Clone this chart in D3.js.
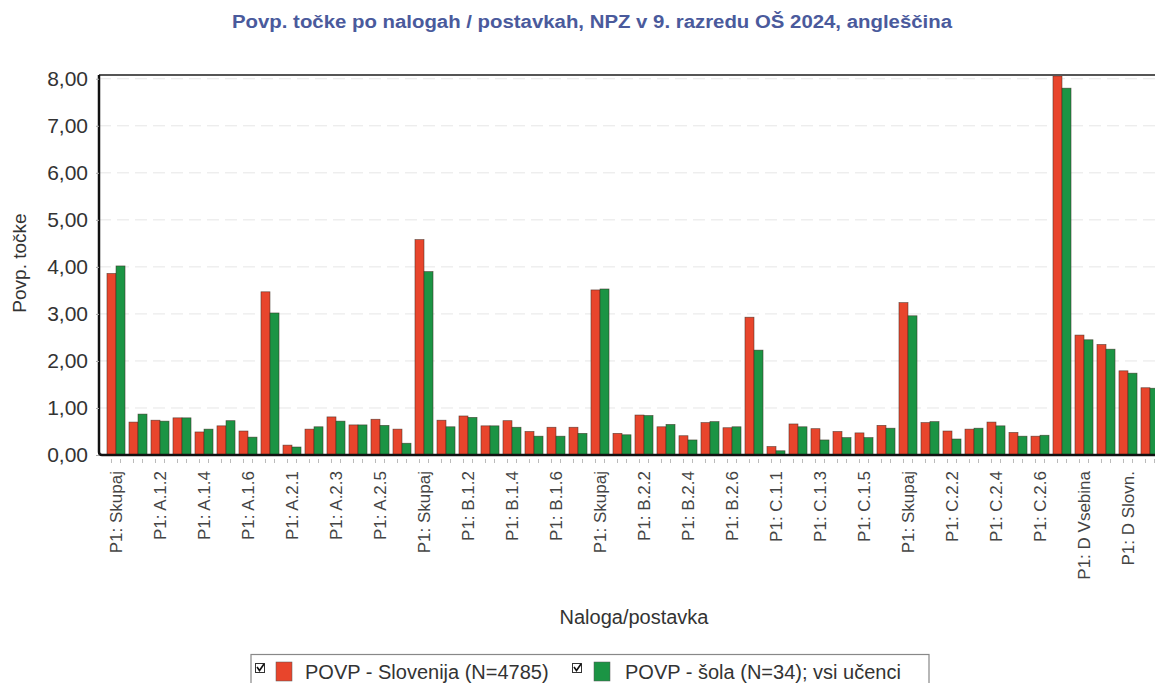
<!DOCTYPE html>
<html><head><meta charset="utf-8">
<script src="https://cdn.jsdelivr.net/npm/d3@7"></script>
<style>body{margin:0;background:#fff}svg{display:block;font-family:"Liberation Sans",Arial,sans-serif}</style>
</head><body>
<svg id="c" width="1155" height="683"></svg>
<script>
const categories = ["P1: Skupaj","P1: A.1.1","P1: A.1.2","P1: A.1.3","P1: A.1.4","P1: A.1.5","P1: A.1.6",
 "P1: Skupaj","P1: A.2.1","P1: A.2.2","P1: A.2.3","P1: A.2.4","P1: A.2.5","P1: A.2.6",
 "P1: Skupaj","P1: B.1.1","P1: B.1.2","P1: B.1.3","P1: B.1.4","P1: B.1.5","P1: B.1.6","P1: B.1.7",
 "P1: Skupaj","P1: B.2.1","P1: B.2.2","P1: B.2.3","P1: B.2.4","P1: B.2.5","P1: B.2.6",
 "P1: Skupaj","P1: C.1.1","P1: C.1.2","P1: C.1.3","P1: C.1.4","P1: C.1.5","P1: C.1.6",
 "P1: Skupaj","P1: C.2.1","P1: C.2.2","P1: C.2.3","P1: C.2.4","P1: C.2.5","P1: C.2.6",
 "P1: Skupaj","P1: D Vsebina","P1: D Zgradba","P1: D Slovn.","P1: D Prav."];
const slovenija = [3.86,0.70,0.74,0.79,0.49,0.62,0.51,
 3.47,0.21,0.55,0.81,0.64,0.76,0.55,
 4.58,0.74,0.83,0.62,0.73,0.50,0.59,0.59,
 3.51,0.46,0.85,0.60,0.41,0.69,0.58,
 2.93,0.18,0.66,0.56,0.50,0.47,0.63,
 3.24,0.69,0.51,0.55,0.70,0.48,0.40,
 8.06,2.55,2.35,1.79,1.43];
const sola = [4.02,0.87,0.72,0.79,0.55,0.73,0.38,
 3.02,0.17,0.60,0.72,0.64,0.63,0.25,
 3.90,0.60,0.80,0.62,0.59,0.40,0.40,0.46,
 3.53,0.43,0.84,0.65,0.32,0.71,0.60,
 2.23,0.09,0.60,0.32,0.37,0.37,0.57,
 2.96,0.71,0.34,0.57,0.62,0.40,0.42,
 7.80,2.45,2.25,1.74,1.42];
const seriesNames = ["POVP - Slovenija (N=4785)","POVP - šola (N=34); vsi učenci"];
const seriesColors = ["#e8452c","#1b9444"];
const yTicks = [0,1,2,3,4,5,6,7,8];
const chartTitle = "Povp. točke po nalogah / postavkah, NPZ v 9. razredu OŠ 2024, angleščina";
const yTitle = "Povp. točke";
const xTitle = "Naloga/postavka";

const svg = d3.select("#c");
const plotLeft = 99, plotBase = 455, plotTop = 75;
const idx = d3.range(categories.length);
const x = d3.scaleBand().domain(idx).range([105, 105 + categories.length*22]).paddingInner(0.18).paddingOuter(0.09);
const xs = d3.scaleBand().domain([0,1]).range([0, x.bandwidth()]);
const y = d3.scaleLinear().domain([0, 8.08]).range([plotBase, plotTop]);

// title
svg.append("text").attr("x", 592).attr("y", 28).attr("text-anchor","middle")
  .attr("font-size", 18).attr("font-weight","bold").attr("fill","#4a5a9c")
  .attr("textLength", 720).attr("lengthAdjust","spacingAndGlyphs").text(chartTitle);

// grid
svg.append("g").selectAll("line").data(yTicks.filter(d=>d>0)).join("line")
  .attr("x1", plotLeft).attr("x2", 1155).attr("y1", d=>y(d)).attr("y2", d=>y(d))
  .attr("stroke","#e6e6e6").attr("stroke-width",1).attr("stroke-dasharray","12,6");

// bars
const series = [slovenija, sola];
series.forEach((vals, s) => {
  svg.append("g").selectAll("rect").data(idx).join("rect")
    .attr("x", i => x(i) + xs(s)).attr("width", xs.bandwidth())
    .attr("y", i => y(vals[i])).attr("height", i => plotBase - y(vals[i]))
    .attr("fill", seriesColors[s]).attr("stroke","#3a2a20").attr("stroke-width",0.7).attr("stroke-opacity",0.7);
});

// frame
svg.append("line").attr("x1", plotLeft).attr("x2", 1155).attr("y1", plotTop).attr("y2", plotTop)
  .attr("stroke","#555").attr("stroke-width",2);
svg.append("path").attr("d", `M${plotLeft},${plotTop} L${plotLeft},${plotBase-3} Q${plotLeft},${plotBase} ${plotLeft+3},${plotBase} L1155,${plotBase}`)
  .attr("fill","none").attr("stroke","#111").attr("stroke-width",2.5);

// y axis
const ya = svg.append("g").attr("transform", `translate(${plotLeft},0)`)
  .call(d3.axisLeft(y).tickValues(yTicks).tickSize(3).tickPadding(8).tickFormat(d => d3.format(".2f")(d).replace(".", ",")));
ya.select(".domain").remove();
ya.selectAll(".tick line").attr("stroke","#aaa");
ya.selectAll(".tick text").attr("font-size", 21).attr("fill","#333").attr("font-family","Liberation Sans, Arial, sans-serif");

// minor ticks under x axis
const tickXs = [];
idx.forEach(i => { tickXs.push(x(i) + xs(0) + xs.bandwidth()/2, x(i) + xs(1) + xs.bandwidth()/2); });
svg.append("g").selectAll("line").data(tickXs).join("line")
  .attr("x1", d=>d).attr("x2", d=>d).attr("y1", plotBase+4).attr("y2", plotBase+8)
  .attr("stroke","#bbb").attr("stroke-width",1);

// x labels
const xa = svg.append("g").attr("transform", `translate(0,${plotBase})`)
  .call(d3.axisBottom(x).tickValues(idx.filter(i => i % 2 === 0)).tickSize(0).tickFormat(i => categories[i]));
xa.select(".domain").remove();
xa.selectAll(".tick text").attr("font-size", 17).attr("fill","#444")
  .attr("font-family","Liberation Sans, Arial, sans-serif")
  .attr("text-anchor","end").attr("transform","rotate(-90)")
  .attr("x", -16).attr("y", 0).attr("dy","0.36em");

// axis titles
svg.append("text").attr("transform", "translate(26,263) rotate(-90)").attr("text-anchor","middle")
  .attr("font-size", 19).attr("fill","#333").text(yTitle);
svg.append("text").attr("x", 634).attr("y", 624).attr("text-anchor","middle")
  .attr("font-size", 20).attr("fill","#333").text(xTitle);

// legend
const lg = svg.append("g");
lg.append("rect").attr("x", 251).attr("y", 654.5).attr("width", 678).attr("height", 40)
  .attr("fill","#fff").attr("stroke","#888").attr("stroke-width",1.2);
const legX = [255, 572];
seriesNames.forEach((name, s) => {
  const g = lg.append("g").attr("transform", `translate(${legX[s]},0)`);
  g.append("rect").attr("x", 0.5).attr("y", 663.5).attr("width", 9).attr("height", 9)
    .attr("fill","#fff").attr("stroke","#333").attr("stroke-width",1);
  g.append("path").attr("d","M2,667 L4.5,670.5 L9,664").attr("fill","none").attr("stroke","#111").attr("stroke-width",1.6);
  g.append("rect").attr("x", s === 0 ? 21 : 22).attr("y", 662).attr("width", 16).attr("height", 19)
    .attr("fill", seriesColors[s]).attr("stroke","#555").attr("stroke-width",0.5);
  g.append("text").attr("x", s === 0 ? 50 : 53).attr("y", 679).attr("font-size", 20).attr("fill","#333").text(name);
});
</script>
</body></html>
